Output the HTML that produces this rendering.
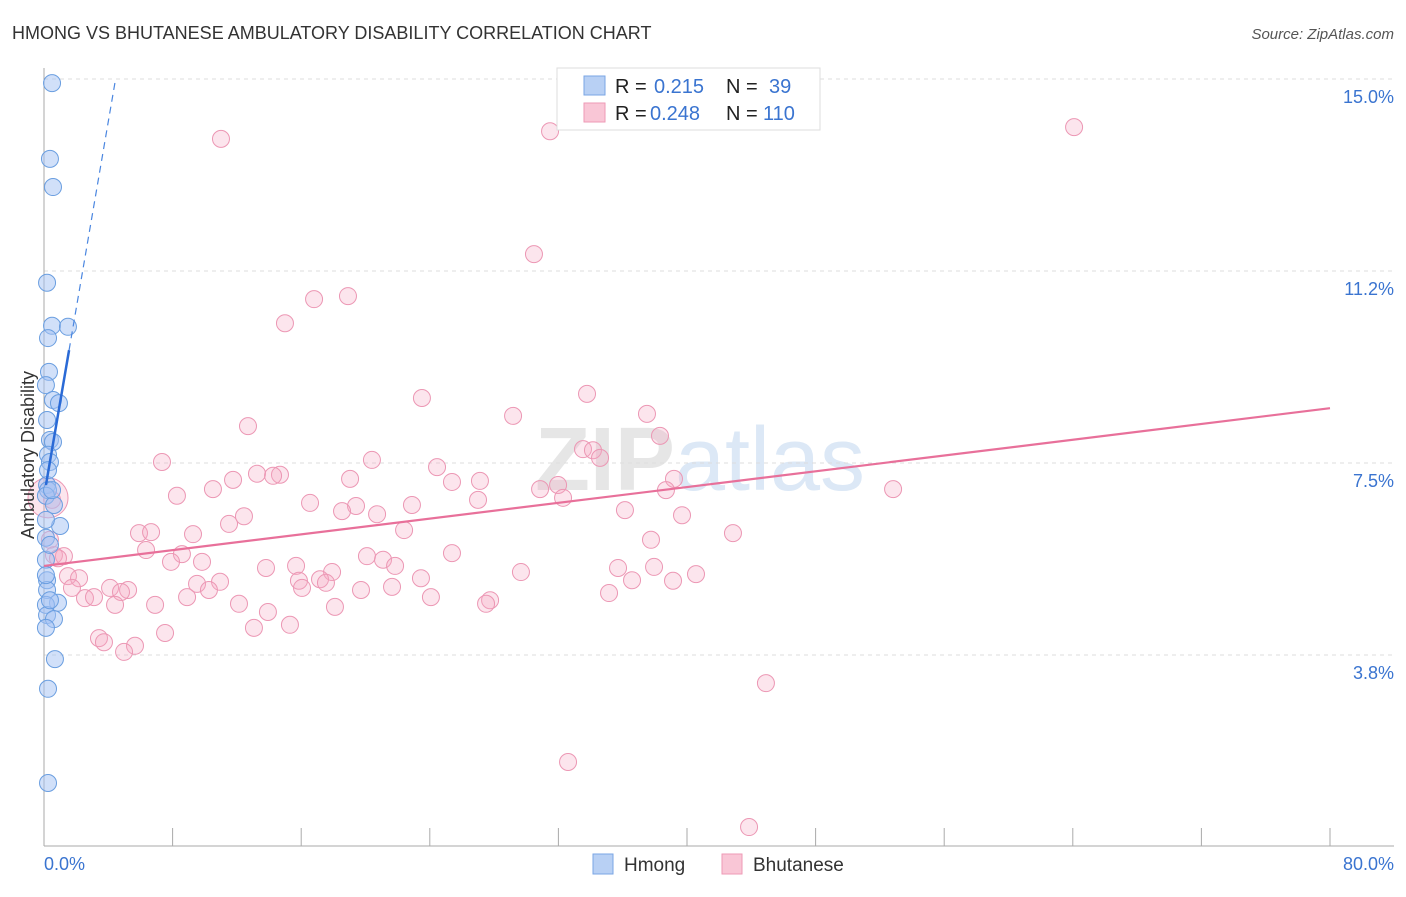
<!DOCTYPE html>
<html><head><meta charset="utf-8"><style>
body{margin:0;background:#fff;font-family:"Liberation Sans",sans-serif}
svg text{font-family:"Liberation Sans",sans-serif}
</style></head><body>
<svg id="chart" width="1406" height="892">
<text x="12" y="39" font-size="18" fill="#333">HMONG VS BHUTANESE AMBULATORY DISABILITY CORRELATION CHART</text>
<text x="1394" y="39" font-size="15" fill="#555" font-style="italic" text-anchor="end">Source: ZipAtlas.com</text>
<text x="700" y="490" font-size="90" fill="#e6e6e6" text-anchor="middle" font-weight="bold">ZIP<tspan fill="#dce8f6" font-weight="normal">atlas</tspan></text>
<g id="grid"></g>
<g id="axes"></g>
<g id="pts"></g>
<g id="lines"></g>
<text x="34" y="455" font-size="18" fill="#333" text-anchor="middle" transform="rotate(-90 34 455)">Ambulatory Disability</text>
<text x="44" y="870" font-size="18" fill="#3a74d0">0.0%</text>
<text x="1394" y="870" font-size="18" fill="#3a74d0" text-anchor="end">80.0%</text>
<g>
<rect x="557" y="68" width="263" height="62" fill="#fff" stroke="#ddd"/>
<rect x="584" y="76" width="21" height="19" fill="#b8d0f4" stroke="#7aa6e4"/>
<rect x="584" y="103" width="21" height="19" fill="#f9c6d6" stroke="#ee9ab6"/>
<text x="615" y="93" font-size="20" fill="#222">R = <tspan fill="#3a74d0" x="654">0.215</tspan><tspan x="726">N =</tspan><tspan fill="#3a74d0" x="769">39</tspan></text>
<text x="615" y="120" font-size="20" fill="#222">R = <tspan fill="#3a74d0" x="650">0.248</tspan><tspan x="726">N =</tspan><tspan fill="#3a74d0" x="763">110</tspan></text>
</g>
<g>
<rect x="593" y="854" width="20" height="20" fill="#b8d0f4" stroke="#7aa6e4"/>
<text x="624" y="871" font-size="19" fill="#333">Hmong</text>
<rect x="722" y="854" width="20" height="20" fill="#f9c6d6" stroke="#ee9ab6"/>
<text x="753" y="871" font-size="19" fill="#333">Bhutanese</text>
</g>
</svg>
<script>
const yTicks=[3.75,7.5,11.25,15.0];
const yTickLabels=["3.8%","7.5%","11.2%","15.0%"];
const hmongX=[0.5,0.37,0.56,0.19,0.5,1.49,0.25,0.31,0.12,0.56,0.93,0.19,0.37,0.56,0.25,0.37,0.19,0.25,0.12,0.62,1.0,0.12,0.12,0.19,0.19,0.87,0.12,0.19,0.62,0.12,0.68,0.25,0.25,0.25,0.12,0.37,0.37,0.12,0.5];
const hmongY=[14.92,13.44,12.89,11.02,10.18,10.16,9.94,9.28,9.02,8.73,8.67,8.34,7.95,7.91,7.66,7.52,7.07,6.97,6.86,6.68,6.27,6.04,5.61,5.21,5.02,4.77,4.73,4.53,4.45,4.28,3.67,3.09,1.25,7.36,6.39,5.9,4.82,5.31,6.97];
const bhuX=[11.01,31.48,64.08,30.48,16.8,18.91,14.99,33.78,23.51,29.18,37.51,12.69,38.32,33.53,34.15,34.59,7.34,20.4,24.45,13.25,14.68,14.25,11.76,19.04,25.38,27.12,39.19,31.98,30.86,38.69,52.82,10.51,8.27,16.55,22.89,27.0,32.29,19.41,18.54,20.72,36.14,12.44,39.69,11.51,22.4,5.91,6.66,9.27,42.86,37.76,6.35,8.58,25.38,20.09,21.09,0.37,0.62,1.24,0.87,7.9,9.83,15.68,13.81,21.84,35.71,29.67,37.95,40.56,17.92,1.49,2.18,15.86,17.17,17.54,23.45,36.58,39.13,4.11,5.23,9.52,10.95,1.74,16.05,10.26,19.72,21.65,2.55,3.11,4.79,8.9,24.07,27.75,35.15,6.91,4.42,12.13,13.93,18.1,27.5,13.06,15.3,7.53,3.42,3.73,5.66,4.98,44.91,32.6,43.86,0.5];
const bhuY=[13.83,13.98,14.06,11.58,10.7,10.76,10.23,8.85,8.77,8.42,8.46,8.22,8.03,7.77,7.75,7.6,7.52,7.56,7.42,7.29,7.27,7.25,7.17,7.19,7.13,7.15,7.19,7.07,6.99,6.97,6.99,6.99,6.86,6.72,6.68,6.78,6.82,6.66,6.56,6.5,6.58,6.46,6.48,6.31,6.19,6.13,6.15,6.11,6.13,6.0,5.8,5.72,5.74,5.68,5.61,6.0,5.7,5.68,5.64,5.57,5.57,5.49,5.45,5.49,5.45,5.37,5.47,5.33,5.37,5.29,5.25,5.2,5.23,5.16,5.25,5.21,5.2,5.06,5.02,5.14,5.18,5.06,5.06,5.02,5.02,5.08,4.86,4.88,4.98,4.88,4.88,4.82,4.96,4.73,4.73,4.75,4.59,4.69,4.75,4.28,4.34,4.18,4.08,4.0,3.93,3.81,3.2,1.66,0.39,6.78];
const hmongTrend=[6.85,1.83];
const bhuTrend=[5.49,8.57];
const NS="http://www.w3.org/2000/svg";
const X=v=>44+v/80*1286;
const Y=v=>847-v*51.2;
function mk(tag,attrs,parent){const e=document.createElementNS(NS,tag);for(const k in attrs)e.setAttribute(k,attrs[k]);parent.appendChild(e);return e;}
const grid=document.getElementById('grid'),axes=document.getElementById('axes'),pts=document.getElementById('pts'),lines=document.getElementById('lines');
yTicks.forEach((t,i)=>{
 const l=mk('line',{x1:44,x2:1394,y1:Y(t),y2:Y(t),stroke:'#ddd','stroke-dasharray':'4,4'},grid);
 
 
 const tx=mk('text',{x:1394,y:Y(t)+24,'font-size':18,fill:'#3a74d0','text-anchor':'end'},grid);
 tx.textContent=yTickLabels[i];
 
 
});
const ya=mk('line',{x1:44,x2:44,y1:68,y2:846,stroke:'#aaa'},axes);


const xa=mk('line',{x1:44,x2:1394,y1:846,y2:846,stroke:'#aaa'},axes);


for(let i=0;i<=10;i++){
 const tk=mk('line',{x1:X(i*8),x2:X(i*8),y1:828,y2:846,stroke:'#aaa'},axes);
 
 
}
bhuX.forEach((x,i)=>{
 const c=mk('circle',{cx:X(x),cy:Y(bhuY[i]),r:8.5,fill:'rgba(244,170,195,0.3)',stroke:'#ec97b4','stroke-width':1},pts);
 
 
});
const big=mk('circle',{cx:X(0.25),cy:Y(6.82),r:20,fill:'rgba(244,170,195,0.3)',stroke:'#ec97b4'},pts);


hmongX.forEach((x,i)=>{
 const c=mk('circle',{cx:X(x),cy:Y(hmongY[i]),r:8.5,fill:'rgba(164,194,244,0.5)',stroke:'#6a9ee0','stroke-width':1},pts);
 
 
});
const bl=mk('line',{x1:X(0),y1:Y(bhuTrend[0]),x2:X(80),y2:Y(bhuTrend[1]),stroke:'#e8709a','stroke-width':2.2},lines);


const hx0=0.12,hx1=1.56,hx2=(15-hmongTrend[0])/hmongTrend[1];
const hl=mk('line',{x1:X(hx0),y1:Y(hmongTrend[0]+hmongTrend[1]*hx0),x2:X(hx1),y2:Y(hmongTrend[0]+hmongTrend[1]*hx1),stroke:'#2a6ad6','stroke-width':2.5},lines);


const hd=mk('line',{x1:X(hx1),y1:Y(hmongTrend[0]+hmongTrend[1]*hx1),x2:X(hx2),y2:Y(15),stroke:'#4a86e0','stroke-width':1.2,'stroke-dasharray':'7,5'},lines);


</script>
</body></html>
